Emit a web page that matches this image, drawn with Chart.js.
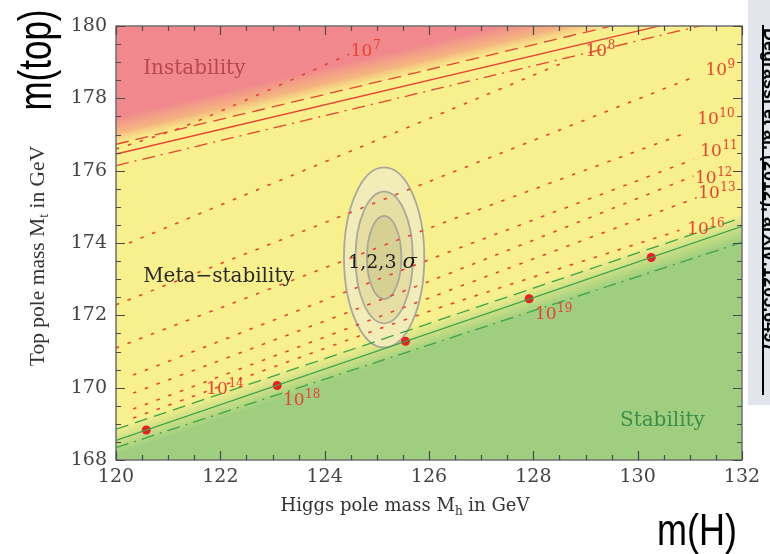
<!DOCTYPE html>
<html>
<head>
<meta charset="utf-8">
<script src="https://cdn.jsdelivr.net/npm/chart.js@4.4.1/dist/chart.umd.min.js"></script>
<style>
html,body{margin:0;padding:0;background:#fff;}
#wrap{position:relative;width:770px;height:554px;overflow:hidden;}
canvas{position:absolute;left:0;top:0;}
</style>
</head>
<body>
<div id="wrap"><canvas id="c" width="770" height="554"></canvas></div>
<script>
// ---------------- data ----------------
const higgsRange = [120, 132];                 // M_h end points of the boundary lines
const instabilityBoundary = [176.46, 180.54];  // M_t at M_h = 120, 132
const instabilityUpper    = [176.73, 180.86];
const instabilityLower    = [176.14, 180.28];
const stabilityBoundary   = [168.54, 174.46];
const stabilityUpper      = [168.85, 174.70];
const stabilityLower      = [168.34, 174.02];

const contourExponents = [7, 8, 9, 10, 11, 12, 13, 16];
const contourMh = [
  [120.00, 121.34, 124.47],
  [120.25, 126.02, 128.60],
  [120.00, 126.02, 131.13],
  [120.00, 126.02, 130.94],
  [120.33, 126.02, 131.07],
  [120.33, 126.02, 131.07],
  [120.33, 126.02, 131.13],
  [120.33, 126.02, 130.80]
];
const contourMt = [
  [176.60, 177.24, 179.22],
  [174.00, 177.45, 179.00],
  [172.29, 175.71, 178.62],
  [171.10, 174.42, 177.05],
  [170.35, 173.55, 176.31],
  [169.85, 172.95, 175.85],
  [169.41, 172.49, 175.25],
  [169.16, 172.12, 174.35]
];

const dotMh = [120.58, 123.09, 125.55, 127.92, 130.26];
const dotMt = [168.83, 170.06, 171.28, 172.46, 173.60];

const fitCenter = [125.14, 173.60];
const sigmaMh = [0.33, 0.55, 0.77];   // half widths of 1,2,3 sigma ellipses
const sigmaMt = [1.15, 1.82, 2.49];

const xTicks = [120, 122, 124, 126, 128, 130, 132];
const yTicks = [168, 170, 172, 174, 176, 178, 180];

// ---------------- annotations (text) ----------------
const powerLabels = [
  {e:'7',  x:124.50, y:179.34},
  {e:'8',  x:129.00, y:179.35},
  {e:'9',  x:131.30, y:178.82},
  {e:'10', x:131.14, y:177.47},
  {e:'11', x:131.20, y:176.57},
  {e:'12', x:131.10, y:175.83},
  {e:'13', x:131.16, y:175.41},
  {e:'16', x:130.95, y:174.42},
  {e:'14', x:121.73, y:169.99},
  {e:'18', x:123.20, y:169.69},
  {e:'19', x:128.03, y:172.07}
];
const regionLabels = [
  {t:'Instability',    x:120.52, y:178.81, c:'#b9474f'},
  {t:'Meta\u2212stability', x:120.52, y:173.06, c:'#2a2a2a'},
  {t:'Stability',      x:129.66, y:169.08, c:'#3b8f49'}
];

const RED = 'rgb(234,66,48)';
const GREEN = 'rgb(58,164,72)';
const SERIF = '"DejaVu Serif", serif';

function lineSet(ys, color, dash, width) {
  return {
    data: higgsRange.map((m, i) => ({x: m, y: ys[i]})),
    showLine: true, borderColor: color, borderWidth: width || 1.3,
    borderDash: dash || [], pointRadius: 0, fill: false
  };
}
const datasets = [];
datasets.push(lineSet(instabilityUpper, RED, [13, 7], 1.3));
datasets.push(lineSet(instabilityBoundary, RED, [], 1.3));
datasets.push(lineSet(instabilityLower, RED, [13, 6, 2, 6], 1.3));
contourMh.forEach((xs, k) => {
  datasets.push({
    data: xs.map((m, i) => ({x: m, y: contourMt[k][i]})),
    showLine: true, borderColor: RED, borderWidth: 1.6,
    borderDash: [3.5, 9], pointRadius: 0, fill: false, tension: 0.25
  });
});
datasets.push(lineSet(stabilityUpper, GREEN, [13, 7], 1.3));
datasets.push(lineSet(stabilityBoundary, GREEN, [], 1.3));
datasets.push(lineSet(stabilityLower, GREEN, [13, 6, 2, 6], 1.3));
datasets.push({
  data: dotMh.map((m, i) => ({x: m, y: dotMt[i]})),
  showLine: false, pointRadius: 4.5, pointBackgroundColor: '#ee1c24',
  pointBorderColor: '#ee1c24', pointBorderWidth: 0
});

function bandFill(ctx, a, xs, ys, vals, sign, d0, d1, stops) {
  const p1 = {x: xs.getPixelForValue(higgsRange[0]), y: ys.getPixelForValue(vals[0])};
  const p2 = {x: xs.getPixelForValue(higgsRange[1]), y: ys.getPixelForValue(vals[1])};
  const L = Math.hypot(p2.x - p1.x, p2.y - p1.y);
  const ux = (p2.x - p1.x) / L, uy = (p2.y - p1.y) / L;
  const nx = uy * sign, ny = -ux * sign;
  const g = ctx.createLinearGradient(p1.x + nx * d0, p1.y + ny * d0, p1.x + nx * d1, p1.y + ny * d1);
  stops.forEach(s => g.addColorStop(s[0], s[1]));
  ctx.fillStyle = g;
  ctx.fillRect(a.left, a.top, a.width, a.height);
}

const bgPlugin = {
  id: 'bg',
  beforeDatasetsDraw(chart) {
    const {ctx, chartArea: a, scales: {x, y}} = chart;
    ctx.save();
    ctx.beginPath(); ctx.rect(a.left, a.top, a.width, a.height); ctx.clip();
    ctx.fillStyle = '#f8f08d';
    ctx.fillRect(a.left, a.top, a.width, a.height);
    bandFill(ctx, a, x, y, instabilityBoundary, 1, 8, 36,
      [[0, 'rgba(247,200,120,0)'], [0.45, 'rgba(244,165,125,0.8)'], [1, 'rgb(240,136,142)']]);
    bandFill(ctx, a, x, y, stabilityBoundary, -1, -13, 14,
      [[0, 'rgba(158,206,126,0)'], [1, 'rgb(158,206,126)']]);
    // 1,2,3 sigma ellipses
    const cx = x.getPixelForValue(fitCenter[0]), cy = y.getPixelForValue(fitCenter[1]);
    const fills = ['#d7d093', '#e6dea3', '#f2ecb8'];
    for (let i = 2; i >= 0; i--) {
      const rx = Math.abs(x.getPixelForValue(fitCenter[0] + sigmaMh[i]) - cx);
      const ry = Math.abs(y.getPixelForValue(fitCenter[1] + sigmaMt[i]) - cy);
      ctx.beginPath();
      ctx.ellipse(cx, cy, rx, ry, 0, 0, Math.PI * 2);
      ctx.fillStyle = fills[i];
      ctx.fill();
      ctx.lineWidth = 1.8;
      ctx.strokeStyle = '#a9a89b';
      ctx.stroke();
    }
    ctx.restore();
  }
};

function drawPower(ctx, px, py, e) {
  ctx.fillStyle = RED;
  ctx.textAlign = 'left';
  ctx.textBaseline = 'alphabetic';
  ctx.font = '17px ' + SERIF;
  const base = py + 6;
  ctx.fillText('10', px, base);
  const w = ctx.measureText('10').width;
  ctx.font = '12px ' + SERIF;
  ctx.fillText(e, px + w + 0.5, base - 7);
}

const overlayPlugin = {
  id: 'overlay',
  afterDraw(chart) {
    const {ctx, chartArea: a, scales: {x, y}} = chart;
    ctx.save();
    // frame
    ctx.strokeStyle = '#6f6f6f';
    ctx.lineWidth = 1.5;
    ctx.strokeRect(a.left, a.top, a.width, a.height);
    // inward ticks
    ctx.strokeStyle = '#4a4a4a';
    ctx.lineWidth = 1.2;
    for (let v = 120; v <= 132.001; v += 0.5) {
      const px = Math.round(x.getPixelForValue(v)) + 0.5;
      const len = (Math.abs(v / 2 - Math.round(v / 2)) < 1e-6) ? 9 : 5;
      ctx.beginPath();
      ctx.moveTo(px, a.bottom); ctx.lineTo(px, a.bottom - len);
      ctx.moveTo(px, a.top); ctx.lineTo(px, a.top + len);
      ctx.stroke();
    }
    for (let v = 168; v <= 180.001; v += 0.5) {
      const py = Math.round(y.getPixelForValue(v)) + 0.5;
      const len = (Math.abs(v / 2 - Math.round(v / 2)) < 1e-6) ? 9 : 5;
      ctx.beginPath();
      ctx.moveTo(a.left, py); ctx.lineTo(a.left + len, py);
      ctx.moveTo(a.right, py); ctx.lineTo(a.right - len, py);
      ctx.stroke();
    }
    // region labels
    ctx.textBaseline = 'middle';
    ctx.textAlign = 'left';
    ctx.font = '20px ' + SERIF;
    regionLabels.forEach(r => {
      ctx.fillStyle = r.c;
      ctx.fillText(r.t, x.getPixelForValue(r.x), y.getPixelForValue(r.y));
    });
    // sigma label
    ctx.fillStyle = '#1e1e1e';
    ctx.font = '19px ' + SERIF;
    const sx = x.getPixelForValue(124.45), sy = y.getPixelForValue(173.45);
    ctx.fillText('1,2,3', sx, sy);
    const sw = ctx.measureText('1,2,3 ').width;
    ctx.font = 'italic 21px ' + SERIF;
    ctx.fillText('\u03c3', sx + sw, sy);
    // power labels
    powerLabels.forEach(p => drawPower(ctx, x.getPixelForValue(p.x), y.getPixelForValue(p.y), p.e));

    // axis titles
    ctx.fillStyle = '#333';
    ctx.textBaseline = 'alphabetic';
    // x title
    (function () {
      const parts = [['Higgs pole mass M', 18, 0], ['h', 12, 4], [' in GeV', 18, 0]];
      let total = 0;
      parts.forEach(p => { ctx.font = p[1] + 'px ' + SERIF; total += ctx.measureText(p[0]).width; });
      let cx = 405 - total / 2;
      const base = 511;
      parts.forEach(p => { ctx.font = p[1] + 'px ' + SERIF; ctx.fillText(p[0], cx, base + p[2]); cx += ctx.measureText(p[0]).width; });
    })();
    // y title
    (function () {
      ctx.save();
      ctx.translate(44, 256);
      ctx.rotate(-Math.PI / 2);
      const F = '"Liberation Serif", serif';
      const parts = [['Top pole mass M', 21.5, 0], ['t', 14, 4], [' in GeV', 21.5, 0]];
      let total = 0;
      parts.forEach(p => { ctx.font = p[1] + 'px ' + F; total += ctx.measureText(p[0]).width; });
      let cx = -total / 2;
      parts.forEach(p => { ctx.font = p[1] + 'px ' + F; ctx.fillText(p[0], cx, p[2]); cx += ctx.measureText(p[0]).width; });
      ctx.restore();
    })();

    // big annotations
    ctx.fillStyle = '#000';
    ctx.textAlign = 'center';
    ctx.textBaseline = 'middle';
    ctx.save();
    ctx.translate(38, 60);
    ctx.rotate(-Math.PI / 2);
    ctx.scale(0.76, 1);
    ctx.font = '46px "Liberation Sans", sans-serif';
    ctx.fillText('m(top)', 0, 0);
    ctx.restore();
    ctx.save();
    ctx.translate(697, 533);
    ctx.scale(0.8, 1);
    ctx.font = '45px "Liberation Sans", sans-serif';
    ctx.fillText('m(H)', 0, 0);
    ctx.restore();

    // side panel (clipped slide text)
    ctx.fillStyle = '#e2e5ec';
    ctx.fillRect(748, 0, 22, 405);
    ctx.strokeStyle = '#000';
    ctx.lineWidth = 2;
    ctx.beginPath(); ctx.moveTo(763, 25); ctx.lineTo(763, 395); ctx.stroke();
    ctx.save();
    ctx.translate(764, 28);
    ctx.rotate(Math.PI / 2);
    ctx.textAlign = 'left';
    ctx.textBaseline = 'alphabetic';
    ctx.fillStyle = '#000';
    ctx.font = 'bold 18px "Liberation Sans", sans-serif';
    ctx.fillText('Degrassi et al. (2012), arXiv:1205.6497', 0, 0);
    ctx.restore();
    ctx.restore();
  }
};

new Chart(document.getElementById('c'), {
  type: 'scatter',
  data: {datasets},
  options: {
    responsive: false,
    animation: false,
    devicePixelRatio: 1,
    layout: {padding: {left: 0, right: 28, top: 26, bottom: 0}},
    plugins: {legend: {display: false}, tooltip: {enabled: false}},
    scales: {
      x: {
        type: 'linear', min: 120, max: 132,
        afterFit: s => { s.height = 94; },
        afterBuildTicks: s => { s.ticks = xTicks.map(v => ({value: v})); },
        grid: {display: false, drawTicks: false},
        border: {display: false},
        ticks: {padding: 6, color: '#444', font: {family: SERIF, size: 19}, maxRotation: 0}
      },
      y: {
        type: 'linear', min: 168, max: 180,
        afterFit: s => { s.width = 116; },
        afterBuildTicks: s => { s.ticks = yTicks.map(v => ({value: v})); },
        grid: {display: false, drawTicks: false},
        border: {display: false},
        ticks: {padding: 9, color: '#444', font: {family: SERIF, size: 19}}
      }
    }
  },
  plugins: [bgPlugin, overlayPlugin]
});
</script>
</body>
</html>
